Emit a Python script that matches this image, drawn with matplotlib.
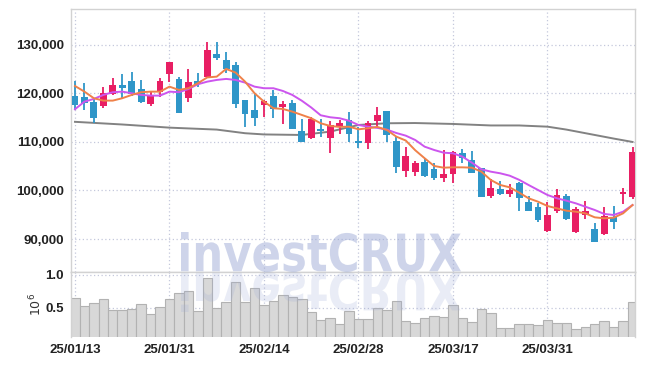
import numpy as np
import matplotlib
matplotlib.use("Agg")
import matplotlib.pyplot as plt
import matplotlib.transforms as mtransforms
from matplotlib.textpath import TextPath
from matplotlib.patches import PathPatch
from matplotlib.font_manager import FontProperties

plt.rcParams['font.family'] = ['Liberation Sans', 'DejaVu Sans']

# daily OHLC (KRW), 25/01/13 .. 25/04/11
open_ = [119480, 119340, 118250, 117420, 119900, 121750, 122580, 120930, 117830, 120250,
         123960, 122990, 119010, 122580, 123340, 128140, 126900, 125870, 118660, 116600,
         117630, 119480, 117280, 117970, 112270, 110880, 112680, 110880, 113360, 114540,
         110270, 109850, 114330, 116390, 110200, 104080, 103880, 105810, 104510, 102640,
         103330, 107660, 106290, 104580, 98920, 100310, 99270, 101610, 97690, 96530,
         91710, 95830, 98860, 91500, 94950, 92060, 91020, 94470, 99210, 98580]
high = [122640, 122100, 119000, 121280, 123260, 124020, 124500, 122780, 120250, 123130,
        126500, 123470, 124990, 124290, 130680, 130550, 128490, 126430, 118700, 120160,
        118660, 120720, 118520, 118600, 114680, 115090, 114680, 114400, 114540, 116120,
        113150, 114400, 117150, 116400, 111090, 109030, 106080, 106640, 105610, 108410,
        108200, 108480, 108200, 104700, 102310, 101960, 101340, 101650, 98920, 97480,
        97560, 100240, 99270, 96660, 97900, 93220, 96660, 96800, 100450, 108900]
low = [116600, 116600, 114000, 116950, 119690, 119000, 119550, 118000, 117420, 119340,
       122430, 116000, 118310, 121400, 123130, 126900, 124160, 116950, 113030, 113300,
       115090, 114890, 113650, 112600, 109900, 110550, 111090, 107660, 111570, 110070,
       108820, 108480, 113360, 109940, 103550, 102840, 103060, 102840, 102160, 101820,
       101480, 105610, 103550, 98650, 98380, 98990, 98720, 95830, 95800, 93560,
       91500, 95420, 94000, 91290, 94050, 89400, 90820, 92000, 97210, 98170]
close = [117630, 118100, 115000, 120160, 121750, 121200, 119830, 118310, 119690, 122580,
         126430, 116040, 122310, 121890, 128970, 127380, 125050, 117830, 115770, 115010,
         118520, 116800, 117830, 112680, 109940, 114680, 112200, 113500, 113850, 111650,
         109850, 113850, 115570, 111440, 104900, 107110, 105610, 103060, 102640, 103400,
         107870, 106640, 103670, 98720, 100450, 99270, 100100, 98510, 95830, 93910,
         94950, 99070, 94050, 96180, 95830, 89440, 94740, 93560, 99750, 108000]

# volume, millions of shares
volume = [0.647, 0.53, 0.57, 0.63, 0.47, 0.47, 0.48, 0.556, 0.41, 0.51,
          0.63, 0.72, 0.757, 0.455, 0.95, 0.495, 0.586, 0.90, 0.586, 0.81,
          0.545, 0.606, 0.697, 0.66, 0.63, 0.44, 0.318, 0.344, 0.258, 0.455,
          0.33, 0.33, 0.495, 0.47, 0.61, 0.30, 0.268, 0.344, 0.379, 0.36,
          0.545, 0.344, 0.283, 0.485, 0.42, 0.19, 0.19, 0.258, 0.258, 0.242,
          0.318, 0.268, 0.268, 0.177, 0.207, 0.258, 0.30, 0.207, 0.30, 0.586]

# moving averages
ma_short = [121540, 120370, 119010, 118520, 118520, 119010, 119690, 120250, 120370, 120370,
            121400, 120720, 121070, 122100, 123300, 123460, 125050, 124290, 122430, 120040,
            118310, 116950, 116800, 116250, 115570, 114890, 113850, 113300, 113100, 113150,
            112610, 112820, 113100, 112470, 111100, 110300, 108300, 106640, 105050, 104700,
            104770, 104770, 104700, 103880, 102160, 101130, 100650, 99550, 98390, 97690,
            96800, 96320, 95830, 95630, 95290, 94470, 94260, 94390, 95290, 97000]
ma_mid = [116740, 118310, 118870, 119690, 120250, 120370, 120040, 119690, 119550, 119550,
          120370, 120250, 120900, 121890, 122430, 122780, 122990, 122780, 122230, 121400,
          121070, 121070, 120510, 119690, 118500, 117100, 115500, 115090, 114890, 114370,
          113500, 113150, 112900, 112540, 111850, 111300, 110410, 109030, 108350, 107790,
          107660, 106970, 105730, 104370, 103880, 103540, 103050, 102200, 101130, 100100,
          99070, 98390, 97900, 97350, 96660, 95980, 95160, 94950, 95630, 97000]
ma_long_idx = [0, 5, 10, 15, 18, 20, 24, 27, 30, 33, 36, 40, 44, 47, 50, 52, 55, 57, 59]
ma_long = [114150, 113600, 112950, 112550, 111800, 111550, 111440, 112130, 113500, 113850,
           113900, 113710, 113400, 113400, 113150, 112550, 111440, 110700, 110000]

tick_idx = [0, 10, 20, 30, 40, 50]
tick_labels = ["25/01/13", "25/01/31", "25/02/14", "25/02/28", "25/03/17", "25/03/31"]
price_ticks = [90000, 100000, 110000, 120000, 130000]

RED = "#e81e63"
BLUE = "#2f96c8"
GRID = "#c4c8dc"
SPINE = "#d2d2d2"

W, H = 645, 366
fig = plt.figure(figsize=(W / 100, H / 100), dpi=100)
ax = fig.add_axes([71 / W, 94 / H, 564 / W, 263 / H])
axv = fig.add_axes([71 / W, 29 / H, 564 / W, 65 / H], sharex=ax)

o = np.array(open_)
c = np.array(close)
x = np.arange(len(c))
cols = np.where(c >= o, RED, BLUE)

ax.vlines(x, low, high, colors=cols, lw=1.3, zorder=3)
ax.bar(x, np.abs(c - o), bottom=np.minimum(o, c), width=0.72, color=cols, zorder=4)
ax.plot(ma_long_idx, ma_long, color="#828282", lw=1.4, zorder=2)
ax.plot(x, ma_mid, color="#cc55ee", lw=1.4, zorder=5)
ax.plot(x, ma_short, color="#ef8149", lw=1.4, zorder=5)

ax.set_ylim(83200, 137400)
ax.set_xlim(-0.42, 59.26)
ax.set_yticks(price_ticks)
ax.set_yticklabels([f"{v:,}" for v in price_ticks])

axv.bar(x, volume, width=1.0, color="#d8d8d8", edgecolor="#b2b2b2", lw=0.8, zorder=2)
axv.set_ylim(0.06, 1.045)
axv.set_yticks([0.5, 1.0])
axv.set_yticklabels(["0.5", "1.0"])
axv.set_xticks(tick_idx)
axv.set_xticklabels(tick_labels)
axv.set_ylabel(r"$10^6$", fontsize=9, color="#333333")
axv.yaxis.set_label_coords(-0.048, 0.5)

for a in (ax, axv):
    a.grid(True, ls=(0, (1, 2)), color=GRID, lw=0.9)
    a.set_axisbelow(True)
    a.tick_params(length=0, labelsize=9.5, colors="#222222", pad=5)
    for lab in a.get_xticklabels() + a.get_yticklabels():
        lab.set_fontweight("bold")
    for s in a.spines.values():
        s.set_color(SPINE)
        s.set_linewidth(1.0)
ax.tick_params(labelbottom=False)
axv.spines["bottom"].set_visible(False)

# watermark with its mirrored reflection
tp = TextPath((0, 0), "investCRUX", size=100,
              prop=FontProperties(family="DejaVu Sans", weight="bold"))
ext = tp.get_extents()
sx = 280 / ext.width
sy = 40 / ext.height
to_fig = mtransforms.Affine2D().scale(1 / W, 1 / H) + fig.transFigure
base = mtransforms.Affine2D().translate(-ext.x0, -ext.y0)
mark = base + mtransforms.Affine2D().scale(sx, sy).translate(181, H - 272)
refl = base + mtransforms.Affine2D().scale(sx, -sy).translate(181, H - 272)
fig.add_artist(PathPatch(tp, transform=mark + to_fig, color="#9eabd6", alpha=0.5, lw=0, zorder=3))
fig.add_artist(PathPatch(tp, transform=refl + to_fig, color="#9eabd6", alpha=0.22, lw=0, zorder=3))

fig.savefig("out.png", dpi=100)
